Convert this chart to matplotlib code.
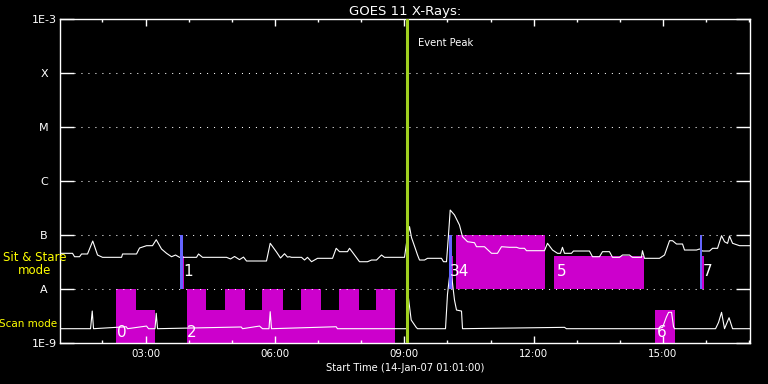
import matplotlib
matplotlib.use("Agg")
import matplotlib.pyplot as plt
from matplotlib.ticker import FixedLocator, FuncFormatter, MultipleLocator, NullLocator

# GOES 11 long channel (1-8 A), hours since midnight 14-Jan-07
long_t = [1.006, 1.307, 1.354, 1.470, 1.516, 1.655, 1.776, 1.887, 2.003, 2.444, 2.467, 2.791,
          2.861, 3.023, 3.162, 3.248, 3.371, 3.487, 3.603, 3.696, 3.788, 4.182, 4.229, 4.322,
          4.878, 4.971, 5.064, 5.179, 5.272, 5.342, 5.411, 5.805, 5.891, 6.037, 6.130, 6.223,
          6.292, 6.339, 6.385, 6.617, 6.687, 6.756, 6.849, 6.988, 7.336, 7.421, 7.498, 7.683,
          7.730, 7.799, 7.962, 8.147, 8.240, 8.356, 8.472, 8.542, 9.005, 9.051, 9.121, 9.167,
          9.260, 9.307, 9.353, 9.469, 9.538, 9.863, 9.909, 9.979, 10.025, 10.065, 10.164, 10.280,
          10.350, 10.466, 10.628, 10.675, 10.860, 11.023, 11.161, 11.254, 11.440, 11.602, 11.671,
          11.787, 11.834, 12.251, 12.321, 12.437, 12.553, 12.622, 12.668, 12.715, 12.877, 12.923,
          13.294, 13.364, 13.526, 13.596, 13.758, 13.828, 13.990, 14.060, 14.222, 14.291, 14.500,
          14.523, 14.570, 14.918, 15.035, 15.151, 15.220, 15.313, 15.452, 15.498, 15.777, 15.847,
          15.916, 16.078, 16.148, 16.264, 16.357, 16.426, 16.496, 16.542, 16.612, 16.774, 17.006]
long_f = [4.58e-8, 4.58e-8, 3.96e-8, 3.96e-8, 4.45e-8, 4.45e-8, 7.74e-8, 4.26e-8, 3.86e-8, 3.86e-8,
          4.45e-8, 4.45e-8, 5.74e-8, 6.34e-8, 6.34e-8, 8.18e-8, 5.5e-8, 4.58e-8, 3.96e-8, 4.26e-8,
          3.86e-8, 3.86e-8, 4.45e-8, 3.86e-8, 3.86e-8, 3.6e-8, 4.0e-8, 3.5e-8, 3.9e-8, 3.3e-8,
          3.3e-8, 3.3e-8, 7.02e-8, 4.84e-8, 3.75e-8, 4.5e-8, 3.9e-8, 3.96e-8, 3.86e-8, 3.86e-8,
          3.44e-8, 3.86e-8, 3.2e-8, 3.7e-8, 3.7e-8, 5.67e-8, 4.91e-8, 4.91e-8, 5.67e-8, 4.8e-8,
          3.2e-8, 3.2e-8, 3.44e-8, 3.44e-8, 4.26e-8, 3.86e-8, 3.86e-8, 7.0e-8, 1.43e-7, 9.0e-8,
          5.5e-8, 4.26e-8, 3.44e-8, 3.44e-8, 3.7e-8, 3.7e-8, 3.2e-8, 3.2e-8, 1.0e-7, 2.9e-7,
          2.35e-7, 1.53e-7, 9.3e-8, 7.51e-8, 7.2e-8, 6.07e-8, 6.07e-8, 4.58e-8, 4.58e-8, 6.07e-8,
          5.92e-8, 5.92e-8, 5.67e-8, 5.67e-8, 5.12e-8, 5.12e-8, 7.02e-8, 5.27e-8, 4.58e-8, 4.58e-8,
          5.92e-8, 4.58e-8, 4.58e-8, 5.05e-8, 5.05e-8, 3.96e-8, 3.96e-8, 4.91e-8, 4.91e-8, 3.86e-8,
          3.86e-8, 4.26e-8, 4.26e-8, 3.86e-8, 3.86e-8, 5.12e-8, 3.7e-8, 3.7e-8, 4.26e-8, 7.84e-8,
          7.84e-8, 6.81e-8, 6.81e-8, 5.27e-8, 5.27e-8, 5.51e-8, 5.05e-8, 5.05e-8, 5.67e-8, 5.67e-8,
          9.71e-8, 7.51e-8, 7.0e-8, 9.58e-8, 7.02e-8, 6.34e-8, 6.34e-8]

# GOES 11 short channel (0.5-4 A)
short_t = [1.006, 1.725, 1.764, 1.794, 2.553, 2.583, 3.023, 3.070, 3.220, 3.248, 3.278, 5.219,
           5.250, 5.643, 5.713, 5.863, 5.891, 5.921, 7.421, 7.450, 9.051, 9.098, 9.160, 9.276,
           9.307, 9.956, 10.002, 10.072, 10.118, 10.164, 10.211, 10.327, 10.350, 12.715, 12.760,
           14.871, 14.990, 15.076, 15.129, 15.198, 15.244, 15.267, 16.218, 16.287, 16.357, 16.426,
           16.531, 16.612, 17.006]
short_f = [1.84e-9, 1.84e-9, 3.91e-9, 1.84e-9, 2.0e-9, 1.84e-9, 2.06e-9, 1.84e-9, 1.84e-9, 3.55e-9,
           1.84e-9, 1.98e-9, 1.84e-9, 2.06e-9, 1.84e-9, 1.84e-9, 3.8e-9, 1.84e-9, 2.0e-9, 1.84e-9,
           1.84e-9, 6.73e-9, 2.67e-9, 1.95e-9, 1.84e-9, 1.84e-9, 8.0e-9, 2.45e-8, 1.29e-8, 6.25e-9,
           4.08e-9, 3.9e-9, 1.84e-9, 1.95e-9, 1.84e-9, 1.84e-9, 1.95e-9, 3.0e-9, 3.7e-9, 3.7e-9,
           2.0e-9, 1.84e-9, 1.84e-9, 2.4e-9, 3.7e-9, 1.84e-9, 2.94e-9, 1.84e-9, 1.84e-9]

# scan mode blocks (start, end, top), drawn from 1E-9
scan_start = [2.304, 2.768, 3.951, 4.407, 4.832, 5.295, 5.706, 6.183, 6.594, 7.074, 7.482, 7.946,
              8.333, 14.825]
scan_end = [2.768, 3.209, 4.407, 4.832, 5.295, 5.706, 6.183, 6.594, 7.074, 7.482, 7.946, 8.333,
            8.796, 15.282]
scan_top = [1e-8, 4.1e-9, 1e-8, 4.1e-9, 1e-8, 4.1e-9, 1e-8, 4.1e-9, 1e-8, 4.1e-9, 1e-8, 4.1e-9,
            1e-8, 4.1e-9]

# sit & stare blocks (start, end, top), drawn from A level
stare_start = [3.858, 10.095, 10.188, 12.483, 15.909]
stare_end = [3.890, 10.130, 12.268, 14.570, 15.940]
stare_top = [4.1e-8, 4.1e-8, 1e-7, 4.1e-8, 4.1e-8]

# pointing markers
mark_start = [3.788, 10.030, 15.847]
mark_end = [3.858, 10.095, 15.909]

obs_labels = ["0", "1", "2", "34", "5", "6", "7"]
obs_t = [2.33, 3.88, 3.97, 10.065, 12.53, 14.85, 15.92]
obs_f = [1.56e-9, 2.07e-8, 1.56e-9, 2.07e-8, 2.07e-8, 1.56e-9, 2.07e-8]

peak_t = 9.064
t0, t1 = 1 + 1 / 60, 17 + 1 / 60
levels = [1e-9, 1e-8, 1e-7, 1e-6, 1e-5, 1e-4, 1e-3]
level_names = ["1E-9", "A", "B", "C", "M", "X", "1E-3"]

MAG = "#cc00cc"
BLUE = "#6464ff"

fig = plt.figure(figsize=(7.68, 3.84), dpi=100, facecolor="black")
ax = fig.add_axes([60 / 768, 41 / 384, 690 / 768, 324 / 384])
ax.set_facecolor("black")
ax.set_yscale("log")
ax.set_xlim(t0, t1)
ax.set_ylim(1e-9, 1e-3)

for a, b, top in zip(scan_start, scan_end, scan_top):
    ax.fill_between([a, b], 1e-9, top, color=MAG, lw=0, zorder=1)
for a, b, top in zip(stare_start, stare_end, stare_top):
    ax.fill_between([a, b], 1e-8, top, color=MAG, lw=0, zorder=1)

for v in levels[1:-1]:
    ax.axhline(v, color="white", lw=0.75, ls=(0, (1, 5.7)), zorder=2)

ax.plot(long_t, long_f, color="white", lw=0.8, zorder=3)
ax.plot(short_t, short_f, color="white", lw=0.8, zorder=3)

for a, b in zip(mark_start, mark_end):
    ax.fill_between([a, b], 1e-8, 1e-7, color=BLUE, lw=0, zorder=4)

for s, t, f in zip(obs_labels, obs_t, obs_f):
    ax.text(t, f, s, color="white", fontsize=11, ha="left", va="center", zorder=6)

ax.axvline(peak_t, color="#a0d020", lw=2.2, zorder=5)
ax.text(9.31, 0.926, "Event Peak", color="white", fontsize=7.2,
        transform=ax.get_xaxis_transform(), ha="left", va="center")

# axes styling
for sp in ax.spines.values():
    sp.set_color("white")
    sp.set_linewidth(1.0)

ax.yaxis.set_major_locator(FixedLocator(levels))
ax.yaxis.set_minor_locator(NullLocator())
ax.set_yticklabels(level_names)
ax.tick_params(axis="y", which="major", direction="in", length=10, width=1.0,
               left=True, right=True, colors="white", labelsize=8, pad=11.5)
for lab in ax.get_yticklabels():
    lab.set_horizontalalignment("center")

ax.xaxis.set_major_locator(MultipleLocator(3))
ax.xaxis.set_minor_locator(MultipleLocator(1))
ax.xaxis.set_major_formatter(FuncFormatter(lambda v, p: "%02d:00" % int(round(v))))
ax.tick_params(axis="x", which="major", direction="in", length=4.8, width=1.0,
               top=True, bottom=True, colors="white", labelsize=7.4, pad=4)
ax.tick_params(axis="x", which="minor", direction="in", length=2.4, width=1.0,
               top=True, bottom=True, colors="white")

ax.set_xlabel("Start Time (14-Jan-07 01:01:00)", color="white", fontsize=7.2, labelpad=3)
ax.set_title("GOES 11 X-Rays:", color="white", fontsize=9.5, pad=3)

fig.text(35 / 768, 1 - 264 / 384, "Sit & Stare\nmode", color="yellow", fontsize=8.5,
         ha="center", va="center", multialignment="center", linespacing=1.0)
fig.text(28 / 768, 1 - 324 / 384, "Scan mode", color="yellow", fontsize=7.5,
         ha="center", va="center")

fig.savefig("out.png", dpi=100, facecolor="black")
